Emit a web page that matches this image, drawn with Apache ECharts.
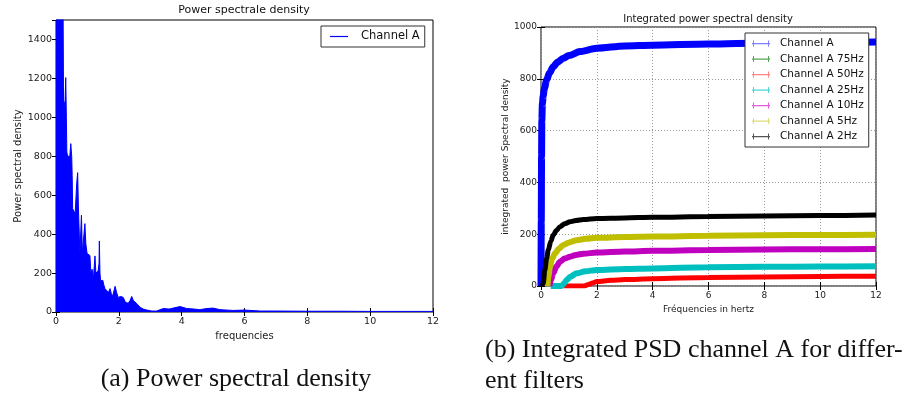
<!DOCTYPE html>
<html><head><meta charset="utf-8">
<script src="https://cdn.jsdelivr.net/npm/echarts@6/dist/echarts.min.js"></script>
<style>html,body{margin:0;padding:0;background:#fff}#c{width:919px;height:397px}</style>
</head><body><div id="c"></div>
<script>
// ---- (a) Power spectral density (envelope) ----
const psdFreq = [0, 0.03, 0.08, 0.14, 0.2, 0.225, 0.245, 0.26, 0.275, 0.29, 0.31, 0.33, 0.345, 0.37, 0.40, 0.44, 0.47, 0.5, 0.515, 0.53,
  0.57, 0.61, 0.64, 0.66, 0.69, 0.71, 0.73, 0.76, 0.79, 0.81, 0.84, 0.88, 0.92, 0.95, 0.99, 1.03, 1.08, 1.11, 1.15, 1.19,
  1.24, 1.27, 1.29, 1.34, 1.37, 1.38, 1.40, 1.42, 1.49, 1.52, 1.56, 1.61, 1.67, 1.72, 1.76, 1.80, 1.88, 1.93, 1.98, 2.06,
  2.14, 2.21, 2.30, 2.36, 2.41, 2.46, 2.51, 2.59, 2.67, 2.78, 2.89, 3.05, 3.2, 3.42, 3.6, 3.73, 3.95, 4.16, 4.4, 4.58,
  4.8, 5.0, 5.22, 5.64, 6.0, 6.5, 7, 8, 9, 10, 11, 12];
const psdValue = [2600, 3000, 2600, 2200, 1900, 1600, 915, 1080, 1000, 1090, 1204, 1000, 822, 800, 790, 800, 865, 800, 700, 531,
  530, 505, 600, 664, 716, 560, 454, 300, 420, 497, 300, 380, 454, 350, 300, 305, 290, 200, 220, 170,
  288, 200, 190, 210, 250, 365, 200, 160, 163, 140, 120, 130, 100, 120, 95, 80, 132, 100, 75, 80,
  75, 50, 45, 60, 80, 60, 55, 40, 25, 15, 10, 5, 5, 18, 15, 20, 28, 18, 15, 12,
  18, 20, 12, 8, 10, 5, 5, 4, 4, 3, 3, 3];

// ---- (b) Integrated PSD ----
const blueFreq = [0, 0.01, 0.02, 0.03, 0.05, 0.08, 0.12, 0.2, 0.3, 0.44, 0.6, 0.8, 1.0, 1.4, 2, 3, 4, 6, 8, 10, 12];
const blueVal  = [0, 250, 500, 640, 705, 735, 762, 795, 822, 847, 865, 879, 890, 905, 918, 927, 930, 934, 938, 940, 942];
const greenFreq = [];
const greenVal  = [];
const redFreq = [0.8, 1.2, 1.55, 1.7, 1.85, 2, 2.5, 3, 4, 6, 8, 10, 12];
const redVal  = [0, 0, 0, 6, 12, 17, 22, 25, 28, 33, 35, 37, 38];
const cyanFreq = [0.35, 0.5, 0.74, 0.82, 0.92, 1.05, 1.28, 1.6, 2, 3, 4, 6, 8, 10, 12];
const cyanVal  = [0, 0, 0, 10, 23, 36, 49, 57, 62, 66, 68, 72, 74, 75, 76];
const magentaFreq = [0.3, 0.36, 0.44, 0.55, 0.68, 0.85, 1.04, 1.25, 1.52, 2, 3, 4, 6, 8, 10, 12];
const magentaVal  = [0, 25, 49, 75, 94, 106, 113, 120, 125, 129, 133, 136, 139, 141, 142, 143];
const yellowFreq = [0.23, 0.27, 0.32, 0.4, 0.5, 0.65, 0.8, 1.0, 1.28, 1.6, 2, 3, 4, 6, 8, 10, 12];
const yellowVal  = [0, 40, 75, 105, 126, 145, 158, 168, 177, 182, 186, 189, 191, 194, 196, 197, 198];
const blackFreq = [0.04, 0.08, 0.14, 0.2, 0.26, 0.35, 0.44, 0.56, 0.68, 0.85, 1.04, 1.25, 1.52, 2, 3, 4, 6, 8, 10, 12];
const blackVal  = [0, 10, 62, 105, 139, 172, 197, 215, 229, 240, 248, 253, 257, 261, 263, 265, 268, 270, 272, 274];

const seriesNames = ['Channel A', 'Channel A 75Hz', 'Channel A 50Hz', 'Channel A 25Hz', 'Channel A 10Hz', 'Channel A 5Hz', 'Channel A 2Hz'];

const pairs = (xs, ys) => xs.map((x, i) => [x, ys[i]]);
const FONT = 'DejaVu Sans';

const chart = echarts.init(document.getElementById('c'), null, {renderer: 'canvas'});

function boxAxes(gi, xmin, xmax, xint, ymin, ymax, yint, xname, yname, fs, nfs, xGap, yGap, grid) {
  const tick = {show: true, inside: true, length: 4, lineStyle: {color: '#000', width: 1}};
  const split = grid ? {show: true, lineStyle: {color: '#999', type: [1, 2], width: 1}} : {show: false};
  const fmt = v => String(v);
  return {
    x: [
      {type: 'value', gridIndex: gi, position: 'bottom', min: xmin, max: xmax, interval: xint,
       axisLine: {show: false}, axisTick: tick, splitLine: split,
       axisLabel: {color: '#222', fontFamily: FONT, fontSize: fs, margin: 5, formatter: fmt},
       name: xname, nameLocation: 'middle', nameGap: xGap,
       nameTextStyle: {color: '#222', fontFamily: FONT, fontSize: nfs}},
      {type: 'value', gridIndex: gi, position: 'top', min: xmin, max: xmax, interval: xint,
       axisLine: {show: false}, axisTick: tick, axisLabel: {show: false}, splitLine: {show: false}}
    ],
    y: [
      {type: 'value', gridIndex: gi, position: 'left', min: ymin, max: ymax, interval: yint,
       axisLine: {show: false}, axisTick: tick, splitLine: split,
       axisLabel: {color: '#222', fontFamily: FONT, fontSize: fs, margin: 4, formatter: fmt, showMaxLabel: ymax % yint === 0},
       name: yname, nameLocation: 'middle', nameGap: yGap, nameRotate: 90,
       nameTextStyle: {color: '#222', fontFamily: FONT, fontSize: nfs}},
      {type: 'value', gridIndex: gi, position: 'right', min: ymin, max: ymax, interval: yint,
       axisLine: {show: false}, axisTick: tick, axisLabel: {show: false}, splitLine: {show: false}}
    ]
  };
}

const a0 = boxAxes(0, 0, 12, 2, 0, 1500, 200, 'frequencies', 'Power spectral density', 9.5, 10, 18, 33, false);
const a1 = boxAxes(1, 0, 12, 2, 0, 1000, 200, 'Fréquencies in hertz', 'integrated  power Spectral density', 9, 9, 15, 30, true);

const lineColors = ['#0000ff', '#008000', '#ff0000', '#00bfbf', '#bf00bf', '#bfbf00', '#000000'];
const iconColors = ['#7f7fff', '#5aa55a', '#ff8585', '#4fd3d3', '#e05ee0', '#dcdc7a', '#555555'];
const intData = [pairs(blueFreq, blueVal), pairs(greenFreq, greenVal), pairs(redFreq, redVal), pairs(cyanFreq, cyanVal),
  pairs(magentaFreq, magentaVal), pairs(yellowFreq, yellowVal), pairs(blackFreq, blackVal)];
const widths = [7, 5, 5, 6, 6, 6, 5];

const tickIcon = 'path://M0,4 L18,4 L18,5.2 L0,5.2 Z M1,1.5 L2,1.5 L2,7.5 L1,7.5 Z M16,1.5 L17,1.5 L17,7.5 L16,7.5 Z';

const option = {
  animation: false,
  backgroundColor: '#fff',
  title: [
    {text: 'Power spectrale density', left: 244, top: 5, padding: 0, textAlign: 'center',
     textStyle: {fontFamily: FONT, fontSize: 11, fontWeight: 'normal', color: '#111'}},
    {text: 'Integrated power spectral density', left: 708, top: 14, padding: 0, textAlign: 'center',
     textStyle: {fontFamily: FONT, fontSize: 10, fontWeight: 'normal', color: '#111'}},
    {text: '(a) Power spectral density', left: 236, top: 366, padding: 0, textAlign: 'center',
     textStyle: {fontFamily: 'Liberation Serif', fontSize: 26, fontWeight: 'normal', color: '#111'}},
    {text: '(b) Integrated PSD channel A for differ-\nent filters', left: 485, top: 335, padding: 0,
     textStyle: {fontFamily: 'Liberation Serif', fontSize: 26, lineHeight: 31, fontWeight: 'normal', color: '#111'}}
  ],
  grid: [
    {left: 56, top: 20, width: 377, height: 292, show: true, borderColor: '#000', borderWidth: 1, backgroundColor: 'transparent'},
    {left: 541, top: 27, width: 335, height: 259, show: true, borderColor: '#000', borderWidth: 1, backgroundColor: 'transparent'}
  ],
  xAxis: [...a0.x, ...a1.x],
  yAxis: [...a0.y, ...a1.y],
  legend: [
    {left: 321, top: 26, orient: 'vertical', padding: [3, 5, 3, 9], borderColor: '#333', borderWidth: 1, backgroundColor: '#fff',
     itemWidth: 18, itemHeight: 10, selectedMode: false,
     itemStyle: {borderWidth: 0},
     textStyle: {fontFamily: FONT, fontSize: 11.5, color: '#111', lineHeight: 15, padding: [0, 0, 0, 8]},
     data: [{name: 'Channel A', icon: 'path://M0,0 L18,0 L18,1.2 L0,1.2 Z', itemStyle: {color: '#0000ff'}}]},
    {left: 745, top: 33, orient: 'vertical', padding: [5, 5, 5, 7], borderColor: '#333', borderWidth: 1, backgroundColor: '#fff',
     itemWidth: 18, itemHeight: 10, itemGap: 4.5, selectedMode: false,
     itemStyle: {borderWidth: 0},
     textStyle: {fontFamily: FONT, fontSize: 10.5, color: '#111', lineHeight: 10, padding: [0, 0, 0, 5]},
     data: seriesNames.map((n, i) => ({name: n, icon: tickIcon, itemStyle: {color: iconColors[i]}}))}
  ],
  series: [
    {type: 'line', name: 'Channel A', xAxisIndex: 0, yAxisIndex: 0, data: pairs(psdFreq, psdValue),
     showSymbol: false, symbol: 'none', clip: true,
     lineStyle: {color: '#0000ff', width: 1}, itemStyle: {color: '#0000ff'},
     areaStyle: {color: '#0000ff', opacity: 1}, z: 2},
    ...seriesNames.map((n, i) => ({
      type: 'line', name: n, xAxisIndex: 2, yAxisIndex: 2, data: intData[i],
      showSymbol: false, symbol: 'none', clip: true, smooth: 0.3, smoothMonotone: 'x',
      lineStyle: {color: lineColors[i], width: widths[i]}, itemStyle: {color: lineColors[i]}, z: 2 + i
    }))
  ]
};
chart.setOption(option);
</script>
</body></html>
